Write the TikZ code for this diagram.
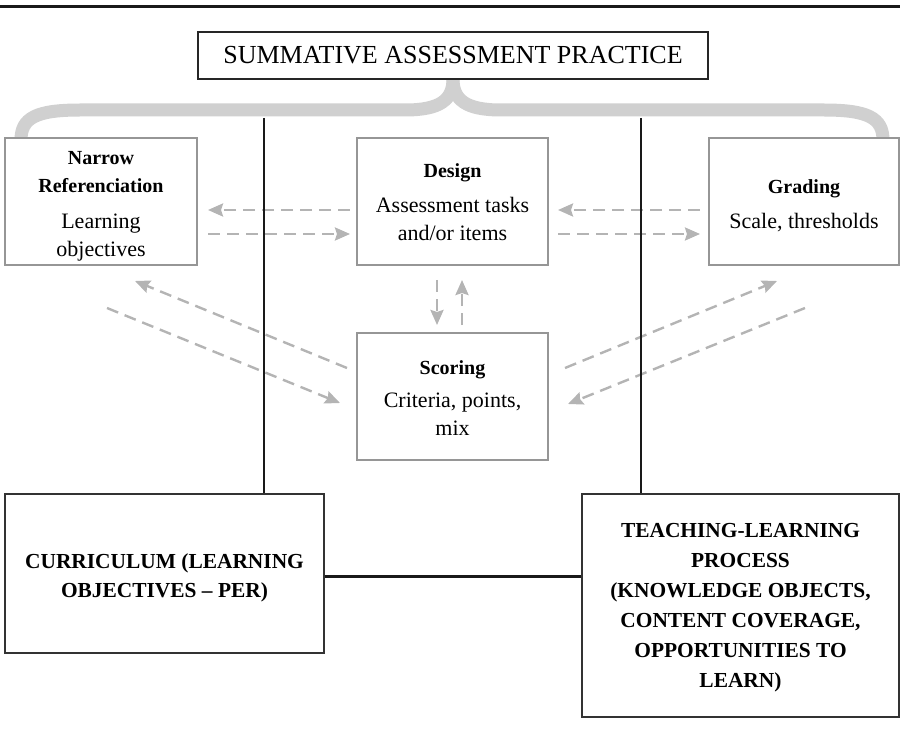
\documentclass[tikz,border=0pt]{standalone}
\usepackage{fontspec}
\setmainfont{Liberation Serif}
\usetikzlibrary{arrows.meta,calc}
\definecolor{bracegray}{RGB}{208,208,208}
\definecolor{arrgray}{RGB}{180,180,180}
\definecolor{boxgray}{RGB}{150,150,150}
\newcommand{\hd}{\fontsize{20}{28}\selectfont\bfseries}
\begin{document}
\begin{tikzpicture}[x=1pt,y=-1pt,
  topbox/.style={draw=boxgray,line width=1.2pt,fill=white,inner sep=0pt},
  toptxt/.style={inner sep=0pt,align=center,font=\fontsize{22}{28}\selectfont},
  titlebox/.style={draw=black!85,line width=1.3pt,fill=white,inner sep=0pt,align=center,
    font=\fontsize{26}{30}\selectfont},
  botbox/.style={draw=black!80,line width=2pt,fill=white,inner sep=0pt},
  bottxt/.style={inner sep=0pt,align=center,font=\fontsize{21.4}{30}\selectfont\bfseries},
  darkline/.style={draw=black!90,line width=2.4pt},
  arr/.style={draw=arrgray,line width=2.4pt,dash pattern=on 12pt off 7pt,
    -{Stealth[length=15pt,width=13pt,inset=2pt]}},
  brace/.style={draw=bracegray,line width=13pt}
]
\useasboundingbox (0,0) rectangle (900,738);
% top rule
\draw[draw=black!90,line width=3pt] (0,7) -- (900,7);

% brace
\draw[brace] (21,140) .. controls (21,118) and (36,110) .. (80,110)
  -- (405,110) .. controls (440,110) and (453,100) .. (453,79);
\draw[brace] (883,140) .. controls (883,118) and (868,110) .. (824,110)
  -- (501,110) .. controls (466,110) and (453,100) .. (453,79);

% boxes
\node[titlebox,minimum width=510pt,minimum height=47pt] (sap) at (453,55.5)
  {SUMMATIVE ASSESSMENT PRACTICE};
\node[topbox,minimum width=192pt,minimum height=127pt] (nar) at (101,201.5) {};
\node[toptxt] (nart) at (101,206.5)
  {{\hd Narrow}\\{\hd Referenciation}\\[8pt]Learning\\objectives};
\node[topbox,minimum width=191pt,minimum height=127pt] (des) at (452.5,201.5) {};
\node[toptxt] (dest) at (452.5,202.5)
  {{\hd Design}\\[7pt]Assessment tasks\\and/or items};
\node[topbox,minimum width=190pt,minimum height=127pt] (gra) at (804,201.5) {};
\node[toptxt] (grat) at (804,205.5)
  {{\hd Grading}\\[7pt]Scale, thresholds};
\node[topbox,minimum width=191pt,minimum height=127pt] (sco) at (452.5,396.5) {};
\node[toptxt] (scot) at (452.5,398.5)
  {{\hd Scoring}\\[5pt]Criteria, points,\\mix};
\node[botbox,minimum width=319pt,minimum height=159pt] (cur) at (164.5,573.5) {};
\node[bottxt,font=\fontsize{21.4}{29}\selectfont\bfseries] (curt) at (164.5,578)
  {CURRICULUM (LEARNING\\OBJECTIVES -- PER)};
\node[botbox,minimum width=317pt,minimum height=223pt] (tlp) at (740.5,605.5) {};
\node[bottxt] (tlpt) at (740.5,607.5)
  {TEACHING-LEARNING\\PROCESS\\(KNOWLEDGE OBJECTS,\\CONTENT COVERAGE,\\OPPORTUNITIES TO\\LEARN)};

% dashed arrows
\coordinate (a1s) at (350,210); \coordinate (a1e) at (208,210);
\coordinate (a2s) at (208,234); \coordinate (a2e) at (350,234);
\coordinate (a3s) at (700,210); \coordinate (a3e) at (558,210);
\coordinate (a4s) at (558,234); \coordinate (a4e) at (700,234);
\coordinate (a5s) at (437,280); \coordinate (a5e) at (437,325);
\coordinate (a6s) at (462,325); \coordinate (a6e) at (462,280);
\coordinate (a7s) at (347,368); \coordinate (a7e) at (135,281);
\coordinate (a8s) at (107,308); \coordinate (a8e) at (340,403);
\coordinate (a9s) at (565,368); \coordinate (a9e) at (777,281);
\coordinate (a10s) at (805,308); \coordinate (a10e) at (568,404);
\draw[arr] (a1s) -- (a1e);
\draw[arr] (a2s) -- (a2e);
\draw[arr] (a3s) -- (a3e);
\draw[arr] (a4s) -- (a4e);
\draw[arr] (a5s) -- (a5e);
\draw[arr] (a6s) -- (a6e);
\draw[arr] (a7s) -- (a7e);
\draw[arr] (a8s) -- (a8e);
\draw[arr] (a9s) -- (a9e);
\draw[arr] (a10s) -- (a10e);

% black lines
\coordinate (v1) at (264,118);
\coordinate (v2) at (641,118);
\draw[darkline] (v1) -- (v1 |- cur.north);
\draw[darkline] (v2) -- (v2 |- tlp.north);
\draw[darkline] ([yshift=-3pt]cur.east) -- ([yshift=-3pt]cur.east -| tlp.west);
\end{tikzpicture}
\end{document}
